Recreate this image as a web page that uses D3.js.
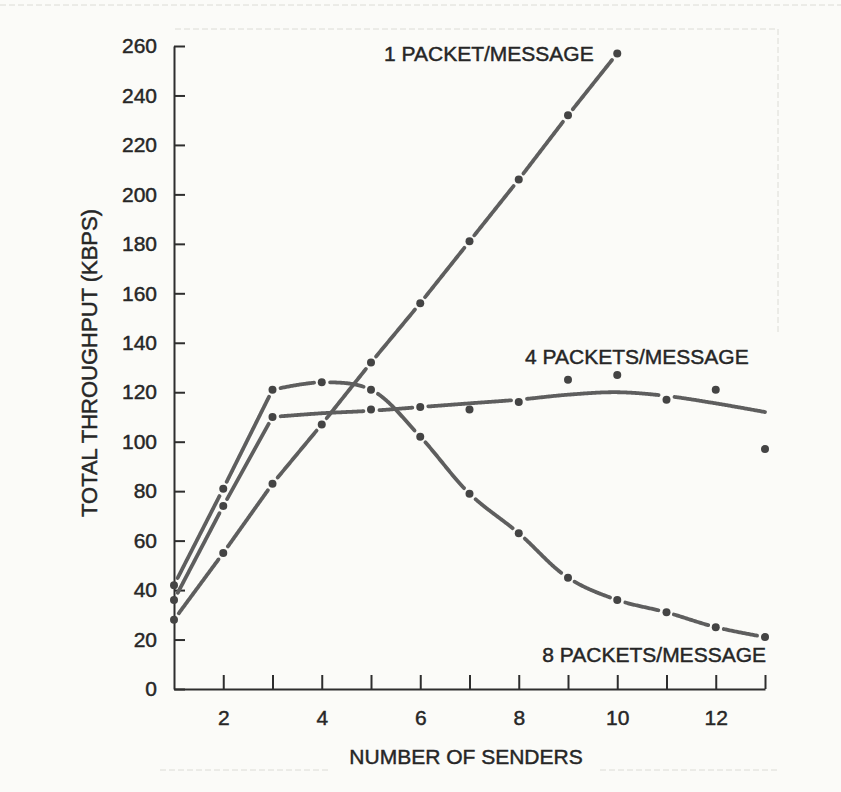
<!DOCTYPE html>
<meta charset="utf-8">
<style>
body { margin: 0; background: #fbfbf8; }
svg { display: block; }
.axis text { font: 21px "Liberation Sans", Arial, Helvetica, sans-serif; fill: #262626; stroke: #262626; stroke-width: 0.45px; }
.axis path, .axis line { stroke: #2e2e2e; stroke-width: 2px; }
.label { font: 21px "Liberation Sans", Arial, Helvetica, sans-serif; fill: #262626; stroke: #262626; stroke-width: 0.45px; }
.frame { stroke: #dcdcd6; stroke-width: 1px; stroke-dasharray: 6 3; fill: none; }
.series { fill: none; stroke: #5e5e5e; stroke-width: 3.8px; stroke-linecap: round; stroke-linejoin: round; }
.dot { fill: #444; }
</style>
<svg width="841" height="792"></svg>
<script src="https://cdn.jsdelivr.net/npm/d3@7"></script>
<script>

// number of senders
var senders = [1, 2, 3, 4, 5, 6, 7, 8, 9, 10, 11, 12, 13];

// 1 packet/message: measured points (senders 1..10)
var onePacket = [28, 55, 83, 107, 132, 156, 181, 206, 232, 257];

// 8 packets/message: measured points
var eightPackets = [42, 81, 121, 124, 121, 102, 79, 63, 45, 36, 31, 25, 21];

// 4 packets/message: measured points (no point at 4) and the drawn fit curve
var fourPackets = [36, 74, 110, null, 113, 114, 113, 116, 125, 127, 117, 121, 97];
var fourFit = [36, 74, 110, 111.5, 112.5, 114, 115.5, 117, 119, 120, 118.5, 115.5, 112];

var yTicks = [0, 20, 40, 60, 80, 100, 120, 140, 160, 180, 200, 220, 240, 260];
var xTicks = [2, 3, 4, 5, 6, 7, 8, 9, 10, 11, 12, 13];

var svg = d3.select("svg");

var x = d3.scaleLinear().domain([1, 13]).range([174, 765]);
var y = d3.scaleLinear().domain([0, 260]).range([689, 46]);

// faint photocopy frame
svg.append("line").attr("class", "frame").attr("x1", 175).attr("x2", 778).attr("y1", 29).attr("y2", 29);
svg.append("line").attr("class", "frame").attr("x1", 0).attr("x2", 841).attr("y1", 5).attr("y2", 5);
svg.append("line").attr("class", "frame").attr("x1", 778).attr("x2", 778).attr("y1", 29).attr("y2", 335);
svg.append("line").attr("class", "frame").attr("x1", 600).attr("x2", 780).attr("y1", 770).attr("y2", 770);
svg.append("line").attr("class", "frame").attr("x1", 160).attr("x2", 330).attr("y1", 770).attr("y2", 770);

// axes
var yAxis = d3.axisLeft(y).tickValues(yTicks).tickSize(-11).tickSizeOuter(0).tickPadding(17);
var xAxis = d3.axisBottom(x).tickValues(xTicks).tickSize(-14).tickSizeOuter(0).tickPadding(21)
    .tickFormat(function(d) { return d % 2 === 0 ? d : ""; });

svg.append("g").attr("class", "axis").attr("transform", "translate(" + x(1) + ",0)").call(yAxis);
svg.append("g").attr("class", "axis").attr("transform", "translate(0," + y(0) + ")").call(xAxis);
svg.selectAll(".axis").attr("font-family", null).attr("font-size", null);

// axis titles
svg.append("text").attr("class", "label")
    .attr("transform", "translate(97,363) rotate(-90)")
    .attr("text-anchor", "middle")
    .style("font-size", "22px")
    .text("TOTAL THROUGHPUT (KBPS)");
svg.append("text").attr("class", "label")
    .attr("x", 466).attr("y", 764)
    .attr("text-anchor", "middle")
    .text("NUMBER OF SENDERS");

// series labels
svg.append("text").attr("class", "label").attr("x", 384).attr("y", 61).text("1 PACKET/MESSAGE");
svg.append("text").attr("class", "label").attr("x", 525).attr("y", 364).text("4 PACKETS/MESSAGE");
svg.append("text").attr("class", "label").attr("x", 766).attr("y", 662).attr("text-anchor", "end").text("8 PACKETS/MESSAGE");

var gap = 8;

// path string: straight up to index `bend`, smooth after it
function pathString(pts, bend) {
  var lin = d3.line().x(function(d) { return x(d[0]); }).y(function(d) { return y(d[1]); });
  if (bend == null) return lin(pts);
  var head = lin(pts.slice(0, bend + 1));
  var tail = lin.curve(d3.curveCatmullRom.alpha(0.5))(pts.slice(bend));
  return head + tail.replace(/^M[^LC]*/, "");
}

// draw the line as dashes, leaving a small gap at each given sender value
function brokenLine(pts, bend, gapXs) {
  var tmp = svg.append("path").attr("d", pathString(pts, bend)).attr("fill", "none");
  var node = tmp.node(), total = node.getTotalLength();
  var samples = d3.range(0, total, 1).concat([total]).map(function(l) {
    var p = node.getPointAtLength(l);
    return { l: l, x: p.x, y: p.y };
  });
  tmp.remove();

  var cuts = gapXs.map(function(v) {
    var px = x(v);
    var best = d3.least(samples, function(s) { return Math.abs(s.x - px); });
    return best.l;
  });

  var pieces = [], cur = [];
  samples.forEach(function(s) {
    var hidden = cuts.some(function(c) { return Math.abs(s.l - c) < gap; });
    if (hidden) {
      if (cur.length > 1) pieces.push(cur);
      cur = [];
    } else {
      cur.push([s.x, s.y]);
    }
  });
  if (cur.length > 1) pieces.push(cur);

  svg.append("g").selectAll("path")
    .data(pieces)
    .enter().append("path")
      .attr("class", "series")
      .attr("d", d3.line());
}

// 1 packet/message: straight segments
var onePts = onePacket.map(function(v, i) { return [senders[i], v]; });
brokenLine(onePts, null, onePts.map(function(d) { return d[0]; }));

// 8 packets/message: straight to 3 senders, smooth curve after
var eightPts = eightPackets.map(function(v, i) { return [senders[i], v]; });
brokenLine(eightPts, 2, senders);

// 4 packets/message: fitted curve, broken where a point sits on it
var fourFitPts = fourFit.map(function(v, i) { return [senders[i], v]; });
var fourGaps = senders.filter(function(s, i) {
  return fourPackets[i] != null && Math.abs(fourPackets[i] - fourFit[i]) <= 2;
});
brokenLine(fourFitPts, 2, fourGaps);

// data points
var allPts = onePts
  .concat(eightPts)
  .concat(fourPackets.map(function(v, i) { return [senders[i], v]; }).filter(function(d) { return d[1] != null; }));

svg.selectAll("circle.dot")
  .data(allPts)
  .enter().append("circle")
    .attr("class", "dot")
    .attr("cx", function(d) { return x(d[0]); })
    .attr("cy", function(d) { return y(d[1]); })
    .attr("r", 4);

</script>
